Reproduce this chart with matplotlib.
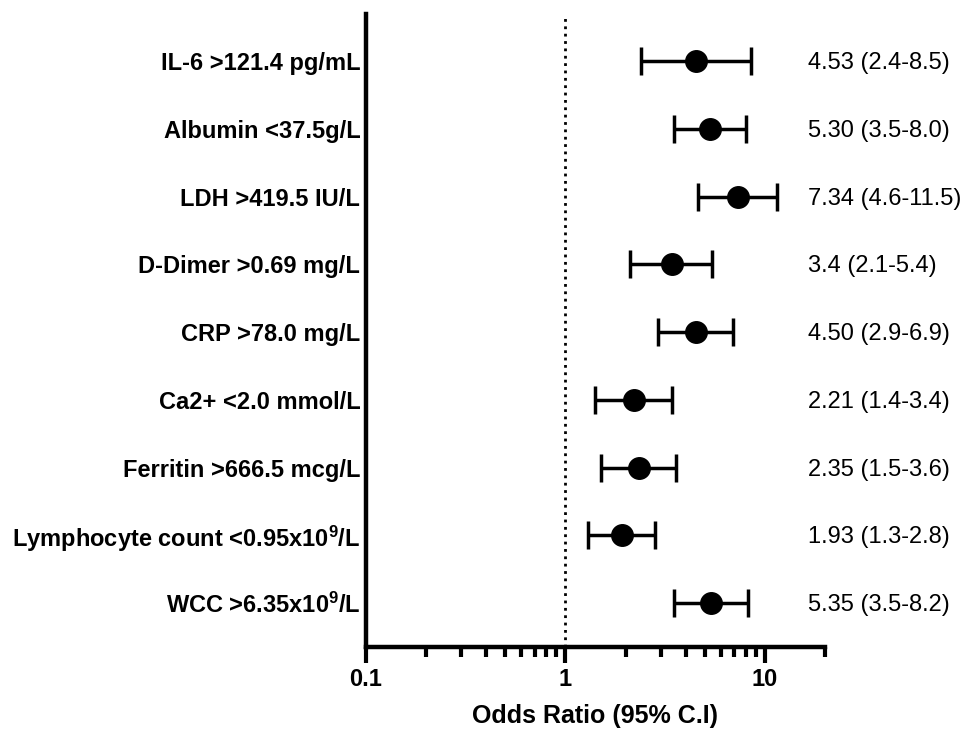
import numpy as np
import matplotlib
matplotlib.use("Agg")
import matplotlib.pyplot as plt
from matplotlib.ticker import LogLocator, FixedFormatter, FixedLocator, NullFormatter

plt.rcParams['font.family'] = ['Liberation Sans', 'DejaVu Sans']
plt.rcParams['mathtext.default'] = 'regular'

labels = ['IL-6 >121.4 pg/mL', 'Albumin <37.5g/L', 'LDH >419.5 IU/L',
          'D-Dimer >0.69 mg/L', 'CRP >78.0 mg/L', 'Ca2+ <2.0 mmol/L',
          'Ferritin >666.5 mcg/L', r'Lymphocyte count <0.95x10$^{9}$/L',
          r'WCC >6.35x10$^{9}$/L']
odds = [4.53, 5.30, 7.34, 3.4, 4.50, 2.21, 2.35, 1.93, 5.35]
lower = [2.4, 3.5, 4.6, 2.1, 2.9, 1.4, 1.5, 1.3, 3.5]
upper = [8.5, 8.0, 11.5, 5.4, 6.9, 3.4, 3.6, 2.8, 8.2]
ci_text = ['4.53 (2.4-8.5)', '5.30 (3.5-8.0)', '7.34 (4.6-11.5)', '3.4 (2.1-5.4)',
           '4.50 (2.9-6.9)', '2.21 (1.4-3.4)', '2.35 (1.5-3.6)', '1.93 (1.3-2.8)',
           '5.35 (3.5-8.2)']

n = len(labels)
ypos = np.arange(n, 0, -1)
odds = np.array(odds)
err = [odds - np.array(lower), np.array(upper) - odds]

fig = plt.figure(figsize=(9.73, 7.31), dpi=100)
ax = fig.add_axes([0.376, 0.115, 0.472, 0.866])

ax.axvline(1, color='black', linestyle=':', linewidth=2)
ax.errorbar(odds, ypos, xerr=err, fmt='o', color='black', markersize=15.5,
            elinewidth=2.5, capsize=10, capthick=2.5)

ax.set_xscale('log')
ax.set_xlim(0.1, 20)
ax.set_ylim(0.35, n + 0.7)
ax.xaxis.set_major_locator(FixedLocator([0.1, 1, 10]))
ax.xaxis.set_major_formatter(FixedFormatter(['0.1', '1', '10']))
ax.xaxis.set_minor_locator(LogLocator(base=10, subs=np.arange(2, 10), numticks=10))
ax.xaxis.set_minor_formatter(NullFormatter())
ax.tick_params(axis='x', which='major', length=11.5, width=3, labelsize=17, pad=4)
ax.tick_params(axis='x', which='minor', length=7, width=3)
for t in ax.get_xticklabels():
    t.set_fontweight('bold')

ax.set_yticks(ypos)
ax.set_yticklabels(labels, fontsize=17, fontweight='bold')
ax.tick_params(axis='y', length=0, pad=4)

for s in ['top', 'right']:
    ax.spines[s].set_visible(False)
for s in ['left', 'bottom']:
    ax.spines[s].set_linewidth(3.2)

for y, t in zip(ypos, ci_text):
    ax.annotate(t, xy=(1.0, y), xycoords=('axes fraction', 'data'),
                xytext=(-17, -2), textcoords='offset pixels',
                ha='left', va='center', fontsize=17)

ax.set_xlabel('Odds Ratio (95% C.I)', fontsize=18, fontweight='bold', labelpad=9)

fig.savefig('out.png', dpi=100)
